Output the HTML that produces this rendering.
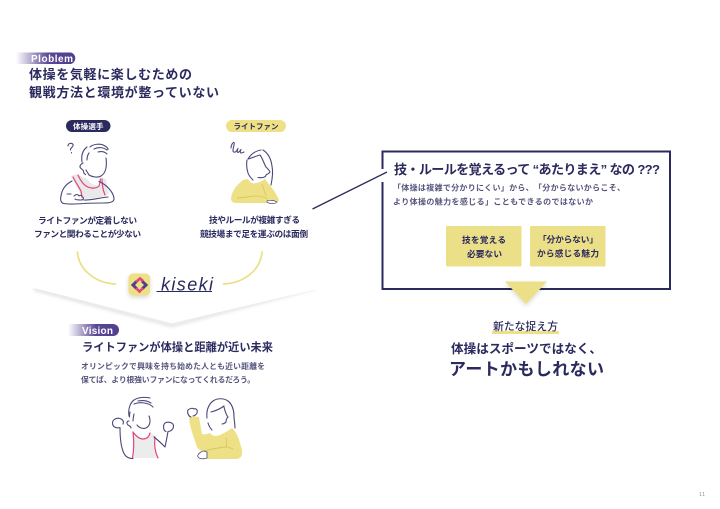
<!DOCTYPE html>
<html lang="ja"><head><meta charset="utf-8">
<style>
html,body{margin:0;padding:0;background:#fff;width:720px;height:509px;overflow:hidden}
svg{display:block}
text{font-family:"Liberation Sans","Noto Sans CJK JP",sans-serif;font-weight:700;fill:#2b2a5e}
.sub{fill:#55547c}
.w{fill:#fff}
.ln{fill:none;stroke:#4a4878;stroke-width:1.1;stroke-linecap:round;stroke-linejoin:round}
.pk{fill:none;stroke:#e0457f;stroke-width:1.2;stroke-linecap:round}
</style></head><body>
<svg width="720" height="509" viewBox="0 0 720 509" xmlns="http://www.w3.org/2000/svg">
<defs>
<linearGradient id="g"><stop offset="0" stop-color="#5a4795" stop-opacity="0"/><stop offset=".55" stop-color="#5a4795"/><stop offset="1" stop-color="#4f3f8e"/></linearGradient>
<filter id="b" x="-10%" y="-30%" width="120%" height="170%"><feGaussianBlur stdDeviation="1.8"/></filter>
<filter id="s" x="-30%" y="-30%" width="160%" height="170%"><feDropShadow dx="0" dy="2" stdDeviation="2" flood-color="#000" flood-opacity=".15"/></filter>
</defs>

<!-- Problem -->
<path d="M16 52.500H71a6 6 0 0 1 0 11.500H16z" fill="url(#g)"/>
<text class="w" x="31" y="61.800" font-size="10" textLength="42">Ploblem</text>
<text x="29" y="79" font-size="13" textLength="163">体操を気軽に楽しむための</text>
<text x="29" y="97" font-size="13" textLength="190">観戦方法と環境が整っていない</text>

<!-- tags -->
<rect x="66" y="120" width="44.500" height="12" rx="6" fill="#2b2a5e"/>
<text class="w" x="73" y="129" font-size="7.500" textLength="30.500">体操選手</text>
<rect x="226" y="120" width="60" height="12" rx="6" fill="#eee085"/>
<text x="233.500" y="129" font-size="7.500" textLength="45">ライトファン</text>

<!-- athlete 1 -->
<path d="M71 176l5-2 11 5c4 6 9 7 14 6l1-7 4 1 3 15-7 3-17 2-5-6-8-15z" fill="#e9e9e9"/>
<path class="pk" d="M73 177c3 6 6 10 8 14l1 6M78 175c3 7 7 11 10 12 4 2 9 1 11-1 1-2 1-5 1.500-7M102 179c0 6 1 11 3 16"/>
<g class="ln">
<path d="M68 146c0-3 4-3.500 5-1.500 1 2.500-3 3-2.500 5.500M71.500 152.500v.5"/>
<path d="M82 162c-1-7 1-12 5-15M87 160c0-3 .5-5 2-7"/>
<path d="M90 147c3-3 11-4 15-1 2 1 3 2.500 3 3.500M94 149c4-2 9-2 13 1M98 152c4-1 7 0 9 2"/>
<path d="M106 158c1 8 0 15-5 18-3 2-9 1-12-1-1-2-2-3-3-5"/>
<path d="M83 163c-2 1-4 3-2.500 5 1 1 2.500 1.500 3 3 0 1.500 1 3 2 3.500"/>
<path d="M72 181c-6 3-10 8-11 15-1 4 0 7 3 7.500 5 1 13 .5 20 0 5-.5 13-.5 20-.5 6 0 10-1 10-4 0-5-5-12-12-16-1-.5-2-1-3-1.500"/>
<path d="M67 194h4M74 196c2-2 4-2 5 0 1-1 3-1 3 1 2 0 2 3-1 3-2 0-5 0-6-1M84 200c6 .5 14-2 24-3"/>
</g>

<!-- fan 1 -->
<path d="M243 180C238 184 232 190 231 198C231 202 233 203 237 203L268 203C272 204 278 204 279 200C276 192 270 186 265 179C262 181 259 183 256 183C253 184 250 183 248 179z" fill="#eee085"/>
<path d="M237 198c6 0 14-2 19-2 4 0 8 1 12 3M262 184l4 12" fill="none" stroke="#d4c55f" stroke-width=".8"/>
<path d="M267 201c2-1 7-1 10 1-1 2-8 2-10 0z" fill="#fff" stroke="#4a4878" stroke-width=".7"/>
<g class="ln">
<path d="M231 148c0-3 2-6 3-5.500 1 .5-1 5-1 8 0 2 2 2 3 1 1-1 2-3 2-3-1 2-1 4 0 4s2-2 3-3c-1 2-1 3 0 3.500 1 0 2-.5 3-1"/>
<path d="M247 160c-1 6 0 10 1 13 1 3 3 5 5 7M248 159c3-5 7-8 13-9"/>
<path d="M248 159c4-1 8-3 12-4 3 4 4 9 6 12 2 2 4 4 4 5-1 2-3 2-4 3 0 1-1 2-3 2.500-2 .5-4 0-5 0"/>
<path d="M263 150c5 3 8 9 9 16 1 5 .5 12 -1 19"/>
</g>

<text x="38" y="223.500" font-size="8.700" textLength="99">ライトファンが定着しない</text>
<text x="34" y="237" font-size="8.700" textLength="107">ファンと関わることが少ない</text>
<text x="209" y="223" font-size="8.700" textLength="91">技やルールが複雑すぎる</text>
<text x="200" y="237" font-size="8.700" textLength="108">競技場まで足を運ぶのは面倒</text>

<!-- chevron -->
<path d="M34 289L172 325.500 314 288" fill="none" stroke="#a5a5a5" stroke-opacity=".55" stroke-width="2" filter="url(#b)"/>
<path d="M24 270H326V287L172 323 26 286z" fill="#fff"/>
<!-- curves -->
<path d="M77.500 252c1 17 17 31 38 32M262 252c-1 17-17 31-38.500 32" fill="none" stroke="#ebdf85" stroke-width="1.700" stroke-linecap="round"/>

<!-- logo -->
<rect x="128.500" y="273.500" width="21.500" height="22" rx="4.500" fill="#eee085" filter="url(#s)"/>
<path d="M137 281L133 285L137 289M142 281L146 285L142 289" fill="none" stroke="#4f3f8e" stroke-width="3"/>
<path d="M136 282L140 278.500L143 281M143 288L139.500 291.500L136 288" fill="none" stroke="#e0457f" stroke-width="2.600"/>
<text x="161" y="290.500" font-size="18" textLength="52" style="font-style:italic;font-weight:400;font-family:'Liberation Sans',sans-serif">kiseki</text>
<path d="M156.500 291.500H212" stroke="#2b2a5e" stroke-width="1"/>

<!-- Vision -->
<path d="M68 324H113a6 6 0 0 1 0 12H68z" fill="url(#g)"/>
<text class="w" x="82" y="333.800" font-size="10" textLength="31">Vision</text>
<text x="82" y="351" font-size="11.200" textLength="191">ライトファンが体操と距離が近い未来</text>
<text class="sub" x="81" y="369" font-size="7.800" textLength="184">オリンピックで興味を持ち始めた人とも近い距離を</text>
<text class="sub" x="81" y="382.500" font-size="7.800" textLength="174">保てば、より根強いファンになってくれるだろう。</text>

<!-- athlete 2 -->
<path d="M133 432c3 4 6 7 10 7 4 0 6-2 7-6l5 3c-1 8 0 15 3 22h-26c2-9 2-18 1-26z" fill="#ececec"/>
<path class="pk" d="M133 432c1 9 1 18-.5 26M133 432c2 3 6 7 10 7 4 0 6-2 7-6M155 437c-1 8 0 15 3 21"/>
<g class="ln">
<path d="M129 416c-1-7 1-13 5-16 5-3 11-3 16-2M134 404c5-2 14-2 19 3M138 401c5-1 10 0 13 2"/>
<path d="M130 412c-.5 2-.5 3-.5 5M133 421c0-2 .5-5 1-7"/>
<path d="M149 416c2 5 1 10-3 12-3 1-7 0-9-3"/>
<path d="M129 421c-2 0-3 2-1 4 1 1 3 1 3 3"/>
<path d="M120 427.500c-4 1-7.500-.5-7.500-4.500 0-3.500 4-5.500 7.500-4.500 3 1 4 3 3 5.500M120 427.500c0 9 1 20 4 26 2 4 5 5 9 5"/>
<path d="M166 431.500c-3-1-3.500-7.500 0-9 3.500-1 7.500.5 7.500 3.500 0 3.500-3 5.500-5.500 5.500M168 431.500c-1 6-2 11-3 15.500-3-3-7-7-11-10"/>
</g>

<!-- fan 2 -->
<path d="M189 418C192 417 196 416 199 417C200 423 201 429 202 434C205 435 207 434 210 433C213 437 217 436 220 435C224 433 228 431 232 428C238 433 240 443 242 450C243 456 240 459 236 459H207L204 452C201 451 199 450 197 447C194 438 190 428 189 418z" fill="#eee085"/>
<path d="M204 451c6-2 14-3 21-4 3 0 6 1 8 2M226 438c1 3 1 6 0 9" fill="none" stroke="#d4c55f" stroke-width=".8"/>
<path d="M198 455c1-2 4-4 6-4l3 1v6c-3 1-6 1-8 0-1-1-2-2-1-3z" fill="#fff" stroke="#4a4878" stroke-width=".8"/>
<g class="ln">
<path d="M191 417c-3-1-4-5-3-7 2-2 5-2 6-1 2-1 4 1 3 4-1 2-3 3-4 3"/>
<path d="M207 418c-1-8 2-14 6-17 4-3 11-3 15 0 4 3 6 9 6 15 0 4 1 8 1 12"/>
<path d="M211 412c4-1 9-3 13-6M224 407c1 4 2 8 4 10-1 1-2 3-2 5-1 1-2 2-4 2"/>
<path d="M208 423c1 3 2 5 4 7"/>
</g>

<!-- connector -->
<path d="M312.500 209L387 172" stroke="#2b2a5e" stroke-width="1.300"/>

<!-- box -->
<path d="M382.500 169V151.500H670V289H382.500V182" fill="none" stroke="#2b2a5e" stroke-width="2"/>
<text x="394" y="173.800" font-size="13.100" textLength="266">技・ルールを覚えるって “あたりまえ” なの ???</text>
<text class="sub" x="393" y="190.500" font-size="8" textLength="232">「体操は複雑で分かりにくい」から、「分からないからこそ、</text>
<text class="sub" x="393" y="204.500" font-size="8" textLength="200">より体操の魅力を感じる」こともできるのではないか</text>

<rect x="446" y="226" width="75.500" height="40.500" rx="1" fill="#ebdf87"/>
<rect x="530" y="226" width="75.500" height="40.500" rx="1" fill="#ebdf87"/>
<text x="462" y="243" font-size="8.700" textLength="44">技を覚える</text>
<text x="467" y="257" font-size="8.700" textLength="35">必要ない</text>
<text x="538" y="242.500" font-size="8.700" textLength="60">「分からない」</text>
<text x="537" y="256.500" font-size="8.700" textLength="62">から感じる魅力</text>

<path d="M505 281.500H547L526 304z" fill="#ebdf87" filter="url(#s)"/>

<!-- result -->
<path d="M492 332.500H559" stroke="#eee085" stroke-width="3"/>
<text x="493" y="330" font-size="10.800" textLength="65" style="font-weight:500">新たな捉え方</text>
<text x="451" y="353" font-size="12.600" textLength="151">体操はスポーツではなく、</text>
<text x="449" y="375" font-size="17" textLength="155">アートかもしれない</text>

<text x="699" y="496" font-size="5" textLength="6" style="font-weight:400;fill:#8a8a9a">11</text>
</svg>
</body></html>
